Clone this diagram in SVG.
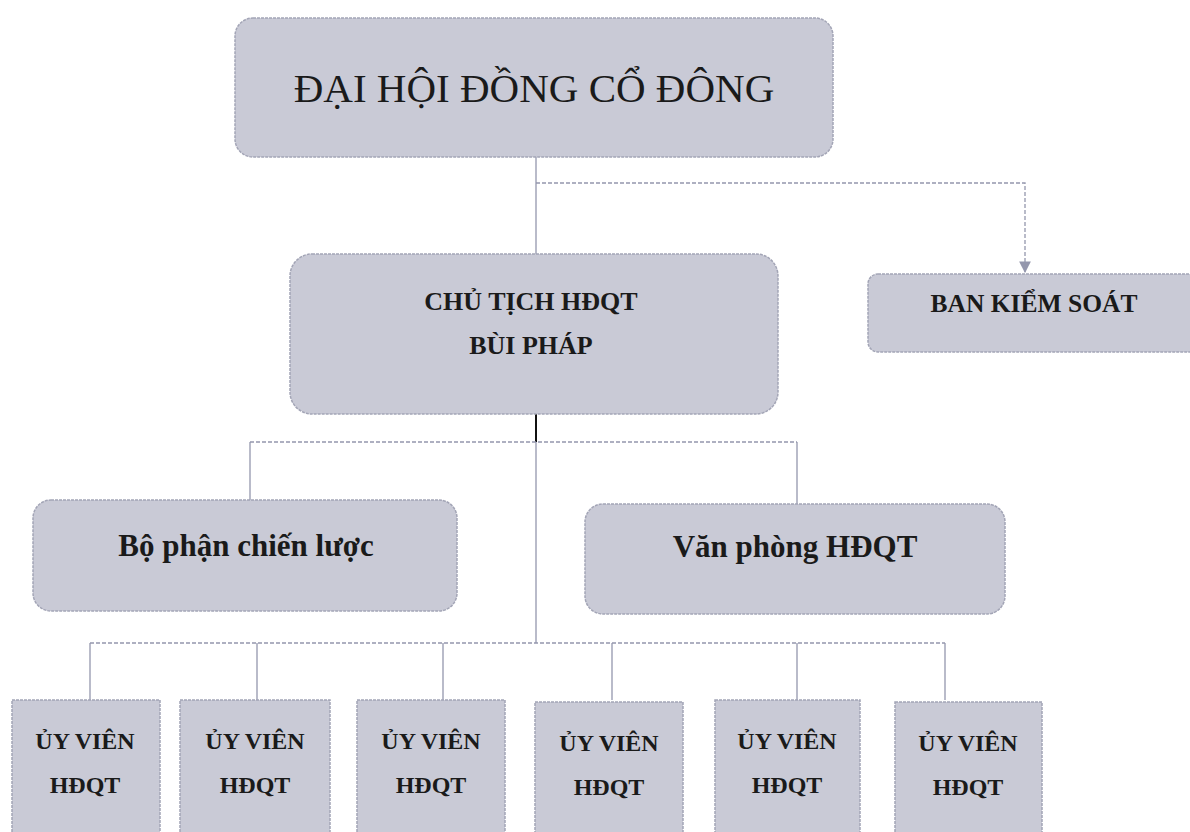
<svg xmlns="http://www.w3.org/2000/svg" width="1190" height="832" viewBox="0 0 1190 832">
<defs>
<style>
.box{fill:#c9cad6;stroke:#a3a5b6;stroke-width:1.5;stroke-dasharray:3 1}
.ln{fill:none;stroke:#9497ad;stroke-width:1.3}
.dl{fill:none;stroke:#9497ad;stroke-width:1.3;stroke-dasharray:4 2}
.t{font-family:"Liberation Serif","Times New Roman",serif;fill:#1a1a1a;text-anchor:middle}
.b{font-weight:bold}
.uv{font-size:24px}
</style>
<marker id="arr" viewBox="0 0 10 10" refX="9" refY="5" markerWidth="9" markerHeight="9" orient="auto">
<path d="M0,0 L10,5 L0,10 z" fill="#9497ad"/>
</marker>
</defs>
<rect width="1190" height="832" fill="#ffffff"/>
<g id="connectors">
<line class="ln" x1="536" y1="157" x2="536" y2="254"/>
<path class="dl" d="M536,183 H1025 V272" marker-end="url(#arr)"/>
<line x1="536" y1="414" x2="536" y2="442" stroke="#111" stroke-width="2"/>
<line class="ln" x1="536" y1="442" x2="536" y2="643"/>
<line class="dl" x1="250" y1="442" x2="797" y2="442"/>
<line class="ln" x1="250" y1="442" x2="250" y2="500"/>
<line class="ln" x1="797" y1="442" x2="797" y2="504"/>
<line class="dl" x1="90" y1="643" x2="945" y2="643"/>
<line class="ln" x1="90" y1="643" x2="90" y2="700"/>
<line class="ln" x1="257" y1="643" x2="257" y2="700"/>
<line class="ln" x1="443" y1="643" x2="443" y2="700"/>
<line class="ln" x1="612" y1="643" x2="612" y2="700"/>
<line class="ln" x1="797" y1="643" x2="797" y2="700"/>
<line class="ln" x1="945" y1="643" x2="945" y2="700"/>
</g>
<g id="dhdcd">
<rect class="box" x="235" y="18" width="598" height="139" rx="18"/>
<text class="t" x="534" y="102" font-size="41">ĐẠI HỘI ĐỒNG CỔ ĐÔNG</text>
</g>
<g id="chutich">
<rect class="box" x="290" y="254" width="488" height="160" rx="22"/>
<text class="t b" x="531" y="310" font-size="26">CHỦ TỊCH HĐQT</text>
<text class="t b" x="531" y="354" font-size="26">BÙI PHÁP</text>
</g>
<g id="bks">
<rect class="box" x="868" y="274" width="340" height="78" rx="10"/>
<text class="t b" x="1034" y="312" font-size="25.5">BAN KIỂM SOÁT</text>
</g>
<g id="bpcl">
<rect class="box" x="33" y="500" width="424" height="111" rx="18"/>
<text class="t b" x="246" y="556" font-size="31">Bộ phận chiến lược</text>
</g>
<g id="vp">
<rect class="box" x="585" y="504" width="420" height="110" rx="18"/>
<text class="t b" x="795" y="557" font-size="31">Văn phòng HĐQT</text>
</g>
<g id="uv1">
<rect class="box" x="12" y="700" width="148" height="150"/>
<text class="t b uv" x="85" y="749">ỦY VIÊN</text>
<text class="t b uv" x="85" y="793">HĐQT</text>
</g>
<g id="uv2">
<rect class="box" x="180" y="700" width="150" height="150"/>
<text class="t b uv" x="255" y="749">ỦY VIÊN</text>
<text class="t b uv" x="255" y="793">HĐQT</text>
</g>
<g id="uv3">
<rect class="box" x="357" y="700" width="148" height="150"/>
<text class="t b uv" x="431" y="749">ỦY VIÊN</text>
<text class="t b uv" x="431" y="793">HĐQT</text>
</g>
<g id="uv4">
<rect class="box" x="535" y="702" width="148" height="150"/>
<text class="t b uv" x="609" y="751">ỦY VIÊN</text>
<text class="t b uv" x="609" y="795">HĐQT</text>
</g>
<g id="uv5">
<rect class="box" x="715" y="700" width="145" height="150"/>
<text class="t b uv" x="787" y="749">ỦY VIÊN</text>
<text class="t b uv" x="787" y="793">HĐQT</text>
</g>
<g id="uv6">
<rect class="box" x="895" y="702" width="147" height="150"/>
<text class="t b uv" x="968" y="751">ỦY VIÊN</text>
<text class="t b uv" x="968" y="795">HĐQT</text>
</g>
</svg>
